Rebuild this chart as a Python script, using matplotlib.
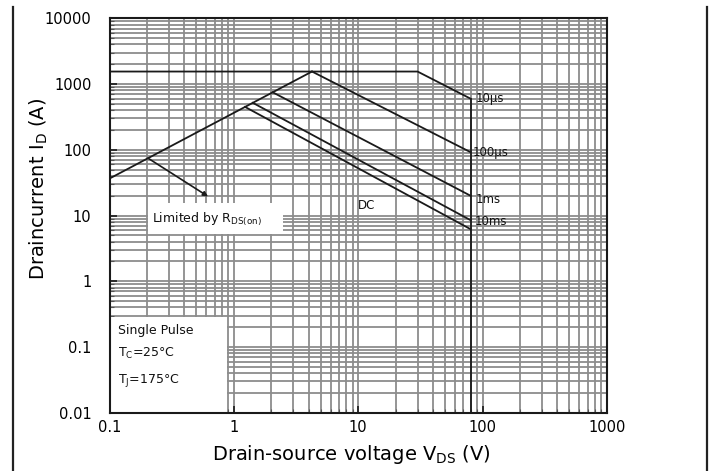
import matplotlib
matplotlib.use("Agg")
import matplotlib.pyplot as plt
from matplotlib.lines import Line2D
from matplotlib.patches import Rectangle

# ── Safe operating area boundaries (V_DS in V, I_D in A) ─────────────────────
RDS_V   = [0.1, 4.25]
RDS_I   = [36.5, 1550]

T10US_V  = [0.1, 30, 80]
T10US_I  = [1550, 1550, 600]
T100US_V = [4.25, 80]
T100US_I = [1550, 92]
T1MS_V   = [2.05, 80]
T1MS_I   = [750, 20]
T10MS_V  = [1.42, 80]
T10MS_I  = [518, 8.5]
DC_V     = [1.23, 80]
DC_I     = [449, 6.2]

VMAX_V   = [80, 80]
VMAX_I   = [600, 0.01]

# arrow pointing at the R_DS(on) limit line
ARROW_FROM = (0.204, 74.5)
ARROW_TO   = (0.62, 19.5)

X_TICKS  = [0.1, 1, 10, 100, 1000]
X_LABELS = ["0.1", "1", "10", "100", "1000"]
Y_TICKS  = [0.01, 0.1, 1, 10, 100, 1000, 10000]
Y_LABELS = ["0.01", "0.1", "1", "10", "100", "1000", "10000"]

GRID_COLOR = "#8c8c8c"
LINE_KW = dict(color="#1a1a1a", lw=1.3, zorder=3)

fig = plt.figure(figsize=(7.14, 4.71), dpi=100)
ax = fig.add_axes([0.1534, 0.1238, 0.6966, 0.8373])

ax.set_xscale("log")
ax.set_yscale("log")
ax.set_xlim(0.1, 1000)
ax.set_ylim(0.01, 10000)

ax.set_axisbelow(True)
ax.grid(True, which="both", color=GRID_COLOR, lw=1.3)

# white label panels sit over the grid
ax.add_patch(Rectangle((0.205, 5.2), 2.5 - 0.205, 15.4 - 5.2,
                       facecolor="white", edgecolor="none", zorder=1.5))
ax.add_patch(Rectangle((0.1, 0.01), 0.875 - 0.1, 0.287 - 0.01,
                       facecolor="white", edgecolor="none", zorder=1.5))

ax.plot(RDS_V, RDS_I, **LINE_KW)
ax.plot(T10US_V, T10US_I, **LINE_KW)
ax.plot(T100US_V, T100US_I, **LINE_KW)
ax.plot(T1MS_V, T1MS_I, **LINE_KW)
ax.plot(T10MS_V, T10MS_I, **LINE_KW)
ax.plot(DC_V, DC_I, **LINE_KW)
ax.plot(VMAX_V, VMAX_I, **LINE_KW)

ax.annotate("", xy=ARROW_TO, xytext=ARROW_FROM,
            arrowprops=dict(arrowstyle="-|>", color="#1a1a1a", lw=1.2,
                            mutation_scale=7, shrinkA=0, shrinkB=0),
            zorder=3)

lbl = dict(fontsize=8.5, color="#111111", va="center", ha="left", zorder=4)
ax.text(88, 600, "10µs", **lbl)
ax.text(84, 92, "100µs", **lbl)
ax.text(88, 17.5, "1ms", **lbl)
ax.text(86, 8.0, "10ms", **lbl)
ax.text(10, 14.3, "DC", **lbl)
box_lbl = dict(lbl, fontsize=9)
ax.text(0.22, 8.8, "Limited by R$_{\\rm DS(on)}$", **box_lbl)
ax.text(0.117, 0.18, "Single Pulse", **box_lbl)
ax.text(0.117, 0.08, "T$_{\\rm C}$=25°C", **box_lbl)
ax.text(0.117, 0.031, "T$_{\\rm J}$=175°C", **box_lbl)

ax.set_xticks(X_TICKS)
ax.set_xticklabels(X_LABELS)
ax.set_yticks(Y_TICKS)
ax.set_yticklabels(Y_LABELS)
ax.tick_params(which="major", direction="in", length=5, width=1.2,
               labelsize=10.5, color="#1a1a1a")
ax.tick_params(which="minor", direction="in", length=3, width=0.8,
               color="#555555", labelleft=False, labelbottom=False)
ax.tick_params(axis="y", pad=13)
ax.tick_params(axis="x", pad=5)

for sp in ax.spines.values():
    sp.set_color("#1a1a1a")
    sp.set_linewidth(1.5)
    sp.set_zorder(5)

ax.set_xlabel("Drain-source voltage V$_{\\rm DS}$ (V)", fontsize=14)
ax.set_ylabel("Draincurrent I$_{\\rm D}$ (A)", fontsize=14)
ax.xaxis.set_label_coords(0.487, -0.078)
ax.yaxis.set_label_coords(-0.12, 0.567)

# page border lines on both sides
fig.add_artist(Line2D([13 / 714, 13 / 714], [0, 1 - 7 / 471],
                      transform=fig.transFigure, color="#222222", lw=1.6))
fig.add_artist(Line2D([707 / 714, 707 / 714], [0, 1 - 7 / 471],
                      transform=fig.transFigure, color="#222222", lw=1.6))

fig.savefig("out.png", dpi=100, facecolor="white")
plt.close(fig)
